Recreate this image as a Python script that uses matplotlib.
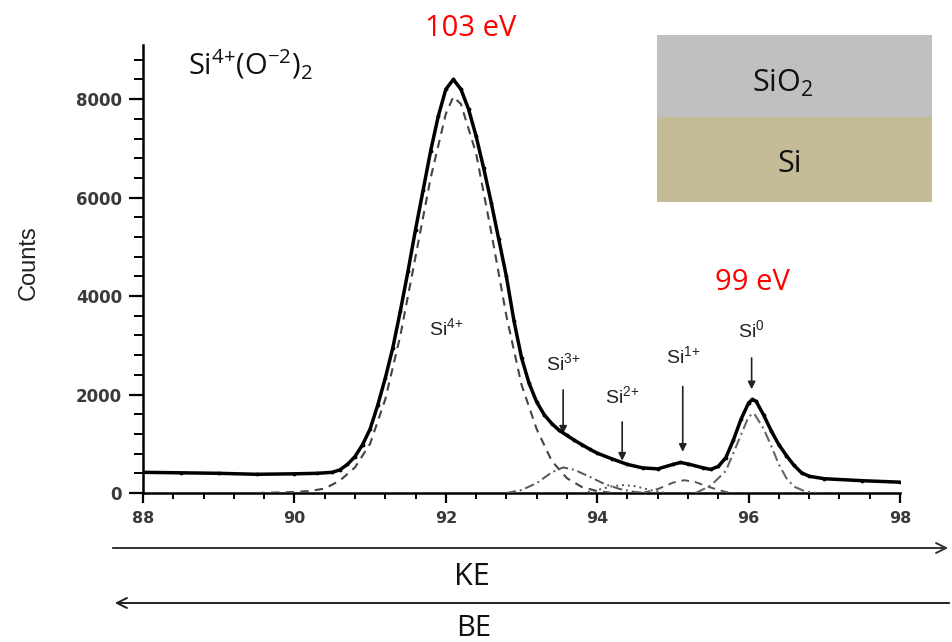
import matplotlib
matplotlib.use("Agg")
import matplotlib.pyplot as plt
from matplotlib.patches import FancyArrowPatch
from matplotlib.ticker import MultipleLocator

# ---- data ----
energy = [88.0, 88.5, 89.0, 89.5, 90.0, 90.3, 90.5, 90.6, 90.7, 90.8, 90.9,
          91.0, 91.1, 91.2, 91.3, 91.4, 91.5, 91.6, 91.7, 91.8, 91.9,
          92.0, 92.1, 92.2, 92.3, 92.4, 92.5, 92.6, 92.7, 92.8, 92.9,
          93.0, 93.1, 93.2, 93.3, 93.4, 93.5, 93.6, 93.7, 93.8, 93.9,
          94.0, 94.2, 94.4, 94.6, 94.8, 95.0, 95.1, 95.2, 95.4, 95.5,
          95.6, 95.7, 95.8, 95.9, 96.0, 96.05, 96.1, 96.2, 96.3, 96.4,
          96.5, 96.6, 96.7, 96.8, 97.0, 97.5, 98.0]
counts = [420, 410, 400, 380, 390, 400, 420, 470, 580, 740, 980,
          1300, 1780, 2330, 2950, 3700, 4500, 5350, 6150, 6950, 7650,
          8200, 8400, 8200, 7800, 7250, 6600, 5900, 5150, 4400, 3500,
          2750, 2230, 1850, 1590, 1410, 1270, 1170, 1070, 980, 890,
          810, 690, 580, 510, 490, 580, 620, 590, 510, 480,
          540, 720, 1080, 1500, 1830, 1900, 1860, 1580, 1260, 980,
          760, 560, 410, 340, 290, 250, 220]

si4_x = [89.5, 90.0, 90.2, 90.4, 90.6, 90.8, 91.0, 91.2, 91.4, 91.6, 91.8,
         92.0, 92.1, 92.2, 92.4, 92.6, 92.8, 93.0, 93.2, 93.4, 93.6, 93.8,
         94.0, 94.2]
si4_y = [0, 20, 40, 90, 250, 520, 1000, 1900, 3200, 4800, 6400,
         7700, 8050, 7900, 6900, 5300, 3600, 2200, 1300, 650, 300, 120,
         40, 0]

si3_x = [92.8, 93.0, 93.2, 93.4, 93.55, 93.7, 93.9, 94.1, 94.3, 94.5, 94.7]
si3_y = [0, 60, 200, 420, 520, 470, 330, 180, 80, 20, 0]

si2_x = [93.8, 94.0, 94.2, 94.35, 94.5, 94.7, 94.9]
si2_y = [0, 60, 140, 160, 140, 60, 0]

si1_x = [94.6, 94.8, 95.0, 95.15, 95.3, 95.5, 95.7, 95.8]
si1_y = [0, 80, 210, 260, 220, 110, 20, 0]

si0_x = [95.3, 95.5, 95.7, 95.85, 96.0, 96.07, 96.2, 96.3, 96.4, 96.5,
         96.6, 96.75, 96.9]
si0_y = [0, 150, 450, 1000, 1550, 1620, 1300, 950, 580, 300, 130, 30, 0]

x_ticks = [88, 90, 92, 94, 96, 98]
y_ticks = [0, 2000, 4000, 6000, 8000]

# peak labels: (text, x, y, arrow start y, arrow end y)
peak_labels = [
    (r"Si$^{\mathregular{4{+}}}$", 92.0, 3330, None, None),
    (r"Si$^{\mathregular{3{+}}}$", 93.55, 2620, 2150, 1150),
    (r"Si$^{\mathregular{2{+}}}$", 94.33, 1950, 1500, 600),
    (r"Si$^{\mathregular{1{+}}}$", 95.13, 2760, 2220, 780),
    (r"Si$^{\mathregular{0}}$", 96.04, 3290, 2800, 2050),
]

# ---- figure ----
W, H = 952, 642
fig = plt.figure(figsize=(W / 100, H / 100), dpi=100)
ax = fig.add_axes([143 / W, 1 - 493 / H, (900 - 143) / W, (493 - 45) / H])

ax.plot(energy, counts, color="black", lw=2.5, zorder=5)
ax.plot(energy, counts, ls="none", marker=".", ms=3.5, color="black", zorder=6)
ax.plot(si4_x, si4_y, color="#444444", lw=1.5, ls=(0, (4, 3)), zorder=4)
ax.plot(si3_x, si3_y, color="#555555", lw=1.4, ls=(0, (5, 2, 1, 2)), zorder=4)
ax.plot(si2_x, si2_y, color="#555555", lw=1.4, ls=(0, (1, 2)), zorder=4)
ax.plot(si1_x, si1_y, color="#555555", lw=1.4, ls=(0, (4, 3)), zorder=4)
ax.plot(si0_x, si0_y, color="#666666", lw=1.5, ls=(0, (5, 2, 1, 2)), zorder=4)

ax.set_xlim(88, 98)
ax.set_ylim(0, 9100)
ax.set_xticks(x_ticks)
ax.set_yticks(y_ticks)
ax.xaxis.set_minor_locator(MultipleLocator(0.4))
ax.yaxis.set_minor_locator(MultipleLocator(400))
for s in ("top", "right"):
    ax.spines[s].set_visible(False)
for s in ("left", "bottom"):
    ax.spines[s].set_linewidth(1.8)
ax.tick_params(axis="x", which="major", direction="out", length=7, width=1.6,
               labelsize=11.5, pad=6)
ax.tick_params(axis="x", which="minor", direction="out", length=4, width=1.4)
ax.tick_params(axis="y", which="major", direction="out", length=10, width=1.6,
               labelsize=12, pad=5)
ax.tick_params(axis="y", which="minor", direction="out", length=6.5, width=1.4)
for lab in ax.get_xticklabels() + ax.get_yticklabels():
    lab.set_family("DejaVu Sans")
    lab.set_fontweight("bold")
    lab.set_color("#3a3a3a")
ax.set_ylabel("Counts", fontsize=17, family="Liberation Sans", color="#222222")
ax.yaxis.set_label_coords(-(143 - 40) / (900 - 143), (493 - 263) / (493 - 45))

for txt, x, y, a0, a1 in peak_labels:
    ax.text(x, y, txt, ha="center", va="center", fontsize=14,
            family="Liberation Sans", color="#222222")
    if a0 is not None:
        ax.annotate("", xy=(x, a1), xytext=(x, a0),
                    arrowprops=dict(arrowstyle="-|>", color="#222222",
                                    lw=1.2, mutation_scale=11))

# title-like texts
fig.text(188 / W, 1 - 75 / H,
         r"Si$^{\mathregular{4{+}}}$(O$^{\mathregular{-2}}$)$_{\mathregular{2}}$",
         fontsize=21, family="Open Sans", ha="left", va="baseline",
         color="#111111")
fig.text(471 / W, 1 - 36 / H, "103 eV", fontsize=21, family="Open Sans",
         ha="center", va="baseline", color="#ff0000")
fig.text(752 / W, 1 - 290 / H, "99 eV", fontsize=21, family="Open Sans",
         ha="center", va="baseline", color="#ff0000")

# layer box
box_ax = fig.add_axes([657 / W, 1 - 202 / H, (932 - 657) / W, (202 - 35) / H])
box_ax.set_xlim(0, 1)
box_ax.set_ylim(0, 1)
box_ax.axhspan(85 / 167, 1.0, color="#c0c0c0", lw=0)
box_ax.axhspan(0.0, 85 / 167, color="#c4bc97", lw=0)
box_ax.axis("off")
fig.text(783 / W, 1 - 92 / H, r"SiO$_{\mathregular{2}}$", ha="center",
         va="baseline", fontsize=22, family="Open Sans", color="#111111")
fig.text(790 / W, 1 - 172 / H, "Si", ha="center", va="baseline", fontsize=22,
         family="Open Sans", color="#111111")

# KE / BE arrows
ke_y = 1 - 548 / H
be_y = 1 - 603 / H
fig.add_artist(FancyArrowPatch(
    (110 / W, ke_y), (951 / W, ke_y), transform=fig.transFigure,
    arrowstyle="->", mutation_scale=18, lw=1.4, color="#333333"))
fig.add_artist(FancyArrowPatch(
    (952 / W, be_y), (112 / W, be_y), transform=fig.transFigure,
    arrowstyle="->", mutation_scale=18, lw=1.4, color="#222222"))
fig.text(472 / W, 1 - 585 / H, "KE", fontsize=22, family="Open Sans",
         ha="center", va="baseline", color="#111111")
fig.text(474 / W, 1 - 636 / H, "BE", fontsize=21, family="Open Sans",
         ha="center", va="baseline", color="#111111")

fig.savefig("out.png", dpi=100, facecolor="white")
